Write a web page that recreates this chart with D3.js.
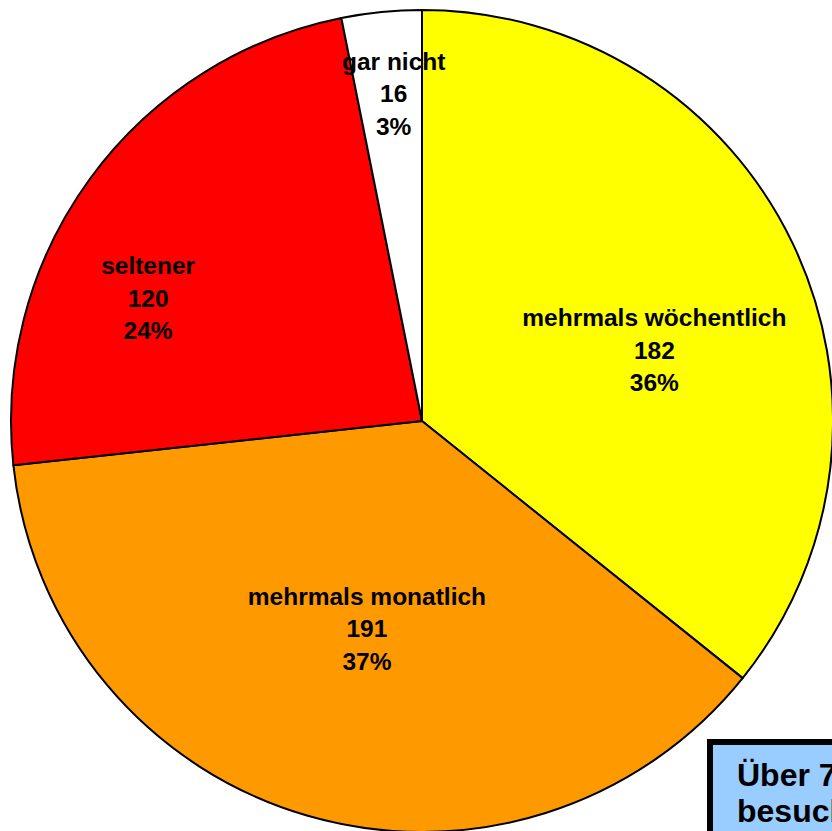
<!DOCTYPE html>
<html>
<head>
<meta charset="utf-8">
<script src="https://cdn.jsdelivr.net/npm/d3@7"></script>
<style>
  body { margin: 0; background: #fff; }
  svg { display: block; }
  text { font-family: Arial, "Liberation Sans", sans-serif; font-weight: bold; }
</style>
</head>
<body>
<div id="chart"></div>
<script>
const categories = ['mehrmals wöchentlich', 'mehrmals monatlich', 'seltener', 'gar nicht']
const counts = [182, 191, 120, 16]
const percents = ['36%', '37%', '24%', '3%']
const colors = ['#ffff00', '#ff9900', '#ff0000', '#ffffff']
const noteLines = ['Über 70%', 'besuchen']

// label nudges away from the default centroid (Excel best-fit placement)
const labelShift = [[10, 36], [14, -29], [-75, 23], [-4, -82]]

const WIDTH = 832
const HEIGHT = 831
const CX = 422
const CY = 421
const R = 411
const LINE = 32.5

const svg = d3.select('#chart').append('svg')
                               .attr('width', WIDTH)
                               .attr('height', HEIGHT)

const data = categories.map((c, i) => ({ name: c, value: counts[i], pct: percents[i], i }))

const pie = d3.pie().value(d => d.value).sort(null)
const arc = d3.arc().innerRadius(0).outerRadius(R)
const labelArc = d3.arc().innerRadius(R * 0.6).outerRadius(R * 0.6)

const g = svg.append('g').attr('transform', `translate(${CX},${CY})`)

const slices = pie(data)

g.selectAll('path.slice')
 .data(slices)
 .enter()
   .append('path')
   .attr('class', 'slice')
   .attr('d', arc)
   .attr('fill', d => colors[d.data.i])
   .attr('stroke', 'black')
   .attr('stroke-width', 2)
   .attr('stroke-linejoin', 'round')

const labels = g.selectAll('text.label')
                .data(slices)
                .enter()
                  .append('text')
                  .attr('class', 'label')
                  .attr('text-anchor', 'middle')
                  .attr('font-size', 24.5)
                  .attr('transform', d => {
                    const [x, y] = labelArc.centroid(d)
                    const [dx, dy] = labelShift[d.data.i]
                    return `translate(${x + dx},${y + dy + 8.7})`
                  })

labels.each(function (d) {
  const t = d3.select(this)
  const lines = [d.data.name, d.data.value, d.data.pct]
  lines.forEach((s, k) => {
    t.append('tspan')
     .attr('x', 0)
     .attr('y', (k - 1) * LINE)
     .text(s)
  })
})

// note box, partly outside the picture
const note = svg.append('g').attr('transform', 'translate(710,742)')
note.append('rect')
    .attr('width', 300)
    .attr('height', 200)
    .attr('fill', '#99ccff')
    .attr('stroke', 'black')
    .attr('stroke-width', 6)
note.selectAll('text')
    .data(noteLines)
    .enter()
      .append('text')
      .attr('x', 27)
      .attr('y', (d, i) => 44 + i * 36)
      .attr('font-size', 32)
      .text(d => d)
</script>
</body>
</html>
